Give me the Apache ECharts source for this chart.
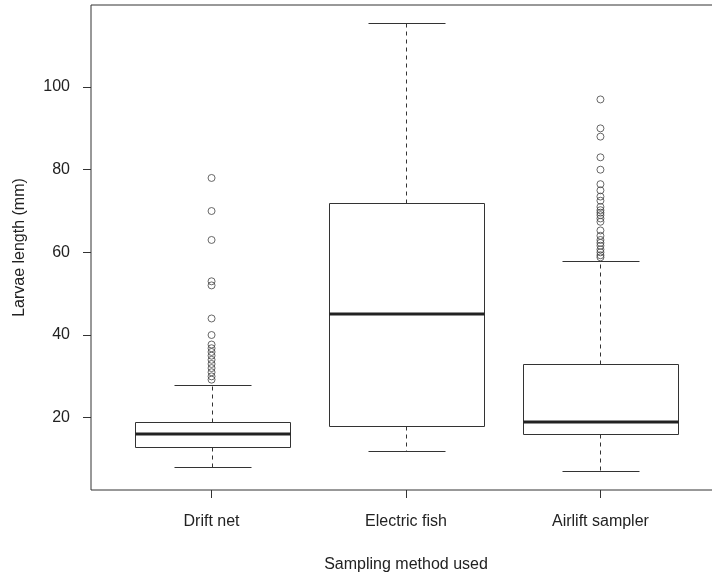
<!DOCTYPE html>
<html>
<head>
<meta charset="utf-8">
<script src="https://cdn.jsdelivr.net/npm/echarts@6/dist/echarts.min.js"></script>
<style>
  html, body { margin: 0; padding: 0; background: #fff; }
  #chart { width: 712px; height: 579px; }
</style>
</head>
<body>
<div id="chart"></div>
<script>
// Sampling methods along the x axis
const categories = ['Drift net', 'Electric fish', 'Airlift sampler'];

// Five-number summaries of larvae length (mm) per method
const lowerWhisker = [8, 12, 7];
const lowerQuartile = [13, 18, 16];
const medians = [16, 45, 19];
const upperQuartile = [19, 72, 33];
const upperWhisker = [28, 115.5, 58];

// Values beyond the whiskers
const driftNetOutliers = [78, 70, 63, 53, 52, 44, 40, 37.7, 36.8, 35.9, 35, 34, 33, 32, 31, 30, 29.2];
const electricFishOutliers = [];
const airliftOutliers = [97, 90, 88, 83, 80, 76.5, 75, 73.5, 72.5, 71, 70.2, 69.6, 69, 68.2, 67.4,
                         65.3, 64, 63, 62.3, 61.6, 60.7, 60, 59.3, 58.8];

const yTicks = [20, 40, 60, 80, 100];

const FONT = '"Liberation Sans", Arial, sans-serif';
const INK = '#222';
const LINE = '#333';

const boxData = categories.map((c, i) => [i + 1, lowerWhisker[i], lowerQuartile[i], medians[i], upperQuartile[i], upperWhisker[i]]);
const outlierData = [];
[driftNetOutliers, electricFishOutliers, airliftOutliers].forEach((arr, i) => {
  arr.forEach(v => outlierData.push([i + 1, v]));
});

const crisp = v => Math.round(v) + 0.5;

function renderBox(params, api) {
  const x = api.value(0);
  const half = api.size([0.8, 0])[0] / 2;
  const capHalf = half / 2;
  const cx = crisp(api.coord([x, 0])[0]);
  const yLow = crisp(api.coord([x, api.value(1)])[1]);
  const yQ1 = crisp(api.coord([x, api.value(2)])[1]);
  const yMed = api.coord([x, api.value(3)])[1];
  const yQ3 = crisp(api.coord([x, api.value(4)])[1]);
  const yHigh = crisp(api.coord([x, api.value(5)])[1]);
  const left = crisp(cx - half);
  const right = crisp(cx + half);
  const dashed = { stroke: LINE, lineWidth: 1, lineDash: [4, 4] };
  const solid = { stroke: LINE, lineWidth: 1 };
  return {
    type: 'group',
    children: [
      { type: 'line', shape: { x1: cx, y1: yQ3, x2: cx, y2: yHigh }, style: dashed },
      { type: 'line', shape: { x1: cx, y1: yQ1, x2: cx, y2: yLow }, style: dashed },
      { type: 'line', shape: { x1: crisp(cx - capHalf), y1: yHigh, x2: crisp(cx + capHalf), y2: yHigh }, style: solid },
      { type: 'line', shape: { x1: crisp(cx - capHalf), y1: yLow, x2: crisp(cx + capHalf), y2: yLow }, style: solid },
      { type: 'rect', shape: { x: left, y: yQ3, width: right - left, height: yQ1 - yQ3 },
        style: { fill: '#fff', stroke: LINE, lineWidth: 1 } },
      { type: 'line', shape: { x1: left, y1: Math.round(yMed), x2: right, y2: Math.round(yMed) },
        style: { stroke: INK, lineWidth: 3 } }
    ]
  };
}

const chart = echarts.init(document.getElementById('chart'), null, { renderer: 'canvas' });
chart.setOption({
  animation: false,
  backgroundColor: '#fff',
  textStyle: { fontFamily: FONT },
  grid: {
    left: 91, top: 5, width: 630, height: 485,
    outerBoundsMode: 'none',
    containLabel: false,
    show: true, borderColor: LINE, borderWidth: 1, backgroundColor: 'transparent'
  },
  xAxis: {
    type: 'value',
    min: 0.38, max: 3.62,
    name: 'Sampling method used',
    nameLocation: 'middle',
    nameGap: 67,
    nameTextStyle: { fontSize: 16, color: INK, fontFamily: FONT },
    axisLine: { show: false },
    splitLine: { show: false },
    axisTick: { show: true, length: 8, customValues: [1, 2, 3], lineStyle: { color: LINE } },
    axisLabel: {
      customValues: [1, 2, 3],
      formatter: v => categories[Math.round(v) - 1] || '',
      fontSize: 16, color: INK, fontFamily: FONT, margin: 24
    }
  },
  yAxis: {
    type: 'value',
    min: 2.5, max: 119.85,
    name: 'Larvae length (mm)',
    nameLocation: 'middle',
    nameGap: 63,
    nameRotate: 90,
    nameTextStyle: { fontSize: 16, color: INK, fontFamily: FONT },
    axisLine: { show: false },
    splitLine: { show: false },
    axisTick: { show: true, length: 8, customValues: yTicks, lineStyle: { color: LINE } },
    axisLabel: {
      customValues: yTicks,
      fontSize: 16, color: INK, fontFamily: FONT, margin: 21
    }
  },
  series: [
    {
      type: 'custom',
      renderItem: renderBox,
      data: boxData,
      encode: { x: 0, y: [1, 2, 3, 4, 5] },
      silent: true,
      z: 2
    },
    {
      type: 'scatter',
      data: outlierData,
      symbol: 'circle',
      symbolSize: 7,
      itemStyle: { color: 'rgba(0,0,0,0)', borderColor: '#444', borderWidth: 1 },
      silent: true,
      z: 3
    }
  ]
});
</script>
</body>
</html>
